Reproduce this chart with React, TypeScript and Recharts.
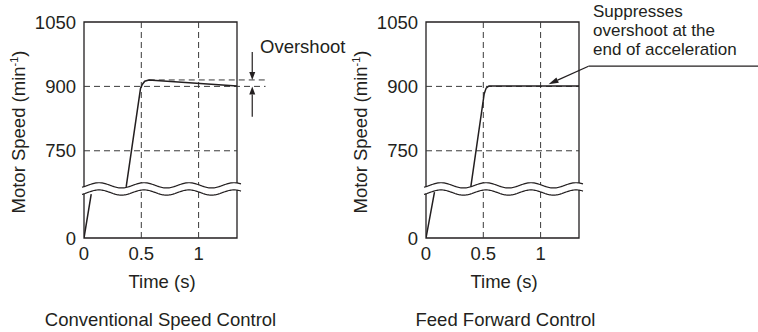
import React from 'react';
import { LineChart, Line, XAxis, YAxis, ReferenceLine, ReferenceArea, Label } from 'recharts';

// axis ticks
const SPEED_TICKS = [0, 750, 900, 1050];
const TIME_TICKS = [0, 0.5, 1];
const TIME_MAX = 1.335;

// broken speed axis: speeds between 100 and 666 are cut out under the wave
const BREAK_SPEEDS = [0, 100, 666, 1050];
const BREAK_POS = [0, 46, 51.4, 217];

// conventional speed control (null = axis break)
const CONV_TIME = [0, 0.063, 0.2, 0.368, 0.493, 0.51, 0.53, 0.565, 1.335];
const CONV_SPEED = [0, 96, null, 666, 895, 905, 912, 915, 901];

// feed forward control
const FF_TIME = [0, 0.074, 0.2, 0.391, 0.508, 0.525, 0.55, 1.335];
const FF_SPEED = [0, 100, null, 666, 883, 896, 901, 901];

// annotations
const OVERSHOOT_PEAK = 915;
const OVERSHOOT_LINE_T = [0.565, 1.6];
const REF_900_LEFT_T = [0, 1.584];
const OVERSHOOT_ARROW_T = 1.468;
const OVERSHOOT_ARROW_FROM = [980, 829];
const FF_NOTE_T = [1.418, 2.93, 1.069];
const FF_NOTE_SPEED = [947, 905];
const FF_NOTE_LINES = ['Suppresses', 'overshoot at the', 'end of acceleration'];

const INK = '#231f20';
const GRID = '#3a3a3a';
const FONT = "'Liberation Sans', Arial, sans-serif";
const FS = 18.5;

const PANEL_W = 416;
const PANEL_H = 332;
const PLOT_LEFT = 84;
const PLOT_W = 153;

const speedToAxis = (s: number) => {
  for (let i = 1; i < BREAK_SPEEDS.length; i++) {
    if (s <= BREAK_SPEEDS[i] || i === BREAK_SPEEDS.length - 1) {
      const s0 = BREAK_SPEEDS[i - 1], s1 = BREAK_SPEEDS[i];
      const p0 = BREAK_POS[i - 1], p1 = BREAK_POS[i];
      return p0 + ((s - s0) / (s1 - s0)) * (p1 - p0);
    }
  }
  return 0;
};
const Y_TOP = speedToAxis(1050);

const rows = (times: number[], speeds: (number | null)[]) =>
  times.map((t, i) => ({ t, speed: speeds[i] }));

const arrowShape = (head: number, half: number) => (p: any) => {
  const { x1, y1, x2, y2 } = p;
  const dx = x2 - x1, dy = y2 - y1;
  const len = Math.hypot(dx, dy) || 1;
  const ux = dx / len, uy = dy / len;
  const bx = x2 - ux * head, by = y2 - uy * head;
  const pts = `${x2},${y2} ${bx - uy * half},${by + ux * half} ${bx + uy * half},${by - ux * half}`;
  return (
    <g>
      <line x1={x1} y1={y1} x2={bx} y2={by} stroke={INK} strokeWidth={1.2} />
      <polygon points={pts} fill={INK} />
    </g>
  );
};

const WAVE_PERIOD = 45;
const WAVE_AMP = 2.6;
const waveShape = (p: any) => {
  const { x, y, width, height } = p;
  const from = x - 2, to = x + width + 4;
  const wave = (c: number) => {
    const pts: number[][] = [];
    for (let px = from; px <= to + 0.01; px += 1) {
      pts.push([px, c - WAVE_AMP * Math.cos((2 * Math.PI * (px - x - 15)) / WAVE_PERIOD)]);
    }
    return pts;
  };
  const up = wave(y - 1.5);
  const lo = wave(y + height + 0.3);
  const toD = (pts: number[][]) =>
    pts.map((q, i) => `${i ? 'L' : 'M'}${q[0].toFixed(2)},${q[1].toFixed(2)}`).join('');
  const fill = toD(up) + lo.slice().reverse().map(q => `L${q[0].toFixed(2)},${q[1].toFixed(2)}`).join('') + 'Z';
  return (
    <g>
      <path d={fill} fill="#fff" />
      <path d={toD(up)} fill="none" stroke={INK} strokeWidth={1.2} />
      <path d={toD(lo)} fill="none" stroke={INK} strokeWidth={1.2} />
    </g>
  );
};

const tickLabel = (v: number) => {
  const s = SPEED_TICKS.find(k => Math.abs(speedToAxis(k) - v) < 0.01);
  return s === undefined ? '' : String(s);
};

interface PanelProps {
  data: { t: number; speed: number | null }[];
  title: string;
  titleShift?: number;
  left: number;
  extras?: React.ReactNode[];
}

const Panel: React.FC<PanelProps> = ({ data, title, titleShift = 0, left, extras = [] }) => (
  <div style={{ position: 'absolute', left, top: 0 }}>
    <LineChart
      width={PANEL_W}
      height={PANEL_H}
      data={data}
      margin={{ top: 22, right: PANEL_W - PLOT_LEFT - PLOT_W, bottom: 0, left: 0 }}
      style={{ fontFamily: FONT }}
    >
      <XAxis
        dataKey="t"
        type="number"
        domain={[0, TIME_MAX]}
        ticks={TIME_TICKS}
        interval={0}
        allowDataOverflow
        axisLine={false}
        tickLine={false}
        tickSize={0}
        tickMargin={9}
        height={94}
        tick={{ fontSize: FS, fill: INK }}
      >
        <Label
          content={(p: any) => {
            const vb = p.viewBox || { x: PLOT_LEFT, y: 238, width: PLOT_W };
            const cx = vb.x + vb.width / 2;
            return (
              <g>
                <text x={cx + 1.5} y={vb.y + 50} textAnchor="middle" fontSize={FS} fill={INK}>
                  Time (s)
                </text>
                <text x={cx + titleShift} y={vb.y + 88} textAnchor="middle" fontSize={FS} fill={INK}>
                  {title}
                </text>
              </g>
            );
          }}
        />
      </XAxis>
      <YAxis
        type="number"
        domain={[0, Y_TOP]}
        ticks={SPEED_TICKS.map(speedToAxis)}
        tickFormatter={tickLabel}
        interval={0}
        allowDataOverflow
        axisLine={false}
        tickLine={false}
        tickSize={0}
        tickMargin={8}
        width={PLOT_LEFT}
        tick={{ fontSize: FS, fill: INK }}
      >
        <Label
          content={(p: any) => {
            const vb = p.viewBox || { x: 0, y: 22, height: 216 };
            const cx = vb.x + 25;
            const cy = vb.y + vb.height / 2 + 2;
            return (
              <text x={cx} y={cy} transform={`rotate(-90 ${cx} ${cy})`} textAnchor="middle" fontSize={FS} fill={INK}>
                Motor Speed (min<tspan fontSize={11} dy={-7}>-1</tspan>
                <tspan dy={7}>)</tspan>
              </text>
            );
          }}
        />
      </YAxis>
      {TIME_TICKS.slice(1).map(t => (
        <ReferenceLine key={'v' + t} x={t} stroke={GRID} strokeWidth={1} strokeDasharray="6 4" />
      ))}
      <ReferenceLine y={speedToAxis(750)} stroke={GRID} strokeWidth={1} strokeDasharray="6 4" />
      {extras}
      <Line
        dataKey={(d: any) => (d.speed == null ? null : speedToAxis(d.speed))}
        type="linear"
        stroke={INK}
        strokeWidth={1.5}
        dot={false}
        isAnimationActive={false}
      />
      <ReferenceArea x1={0} x2={TIME_MAX} y1={0} y2={Y_TOP} fill="none" stroke={INK} strokeWidth={1.3} />
      <ReferenceArea
        x1={0}
        x2={TIME_MAX}
        y1={speedToAxis(BREAK_SPEEDS[1])}
        y2={speedToAxis(BREAK_SPEEDS[2])}
        ifOverflow="visible"
        shape={waveShape}
        zIndex={1500}
      />
    </LineChart>
  </div>
);

export default function App() {
  const p900 = speedToAxis(900);
  const convExtras = [
    <ReferenceLine
      key="r900"
      segment={[{ x: REF_900_LEFT_T[0], y: p900 }, { x: REF_900_LEFT_T[1], y: p900 }]}
      ifOverflow="visible"
      stroke={GRID}
      strokeDasharray="6 4"
    />,
    <ReferenceLine
      key="peak"
      segment={[
        { x: OVERSHOOT_LINE_T[0], y: speedToAxis(OVERSHOOT_PEAK) },
        { x: OVERSHOOT_LINE_T[1], y: speedToAxis(OVERSHOOT_PEAK) },
      ]}
      ifOverflow="visible"
      stroke={GRID}
      strokeDasharray="6 4"
    />,
    <ReferenceLine
      key="a1"
      segment={[
        { x: OVERSHOOT_ARROW_T, y: speedToAxis(OVERSHOOT_ARROW_FROM[0]) },
        { x: OVERSHOOT_ARROW_T, y: speedToAxis(OVERSHOOT_PEAK) },
      ]}
      ifOverflow="visible"
      shape={arrowShape(8, 3)}
    />,
    <ReferenceLine
      key="a2"
      segment={[
        { x: OVERSHOOT_ARROW_T, y: speedToAxis(OVERSHOOT_ARROW_FROM[1]) },
        { x: OVERSHOOT_ARROW_T, y: p900 },
      ]}
      ifOverflow="visible"
      shape={arrowShape(8, 3)}
    />,
  ];
  const ffExtras = [
    <ReferenceLine key="r900" y={p900} stroke={GRID} strokeWidth={1} strokeDasharray="6 4" />,
    <ReferenceLine
      key="under"
      segment={[
        { x: FF_NOTE_T[0], y: speedToAxis(FF_NOTE_SPEED[0]) },
        { x: FF_NOTE_T[1], y: speedToAxis(FF_NOTE_SPEED[0]) },
      ]}
      ifOverflow="visible"
      stroke={INK}
      strokeWidth={1.2}
    />,
    <ReferenceLine
      key="diag"
      segment={[
        { x: FF_NOTE_T[0], y: speedToAxis(FF_NOTE_SPEED[0]) },
        { x: FF_NOTE_T[2], y: speedToAxis(FF_NOTE_SPEED[1]) },
      ]}
      ifOverflow="visible"
      shape={arrowShape(10, 3)}
    />,
  ];

  return (
    <div style={{ position: 'absolute', left: 0, top: 0, width: 758, height: 332, background: '#fff', overflow: 'hidden' }}>
      <Panel data={rows(CONV_TIME, CONV_SPEED)} title="Conventional Speed Control" left={0} extras={convExtras} />
      <Panel data={rows(FF_TIME, FF_SPEED)} title="Feed Forward Control" titleShift={3} left={342} extras={ffExtras} />
      <svg
        width={758}
        height={332}
        style={{ position: 'absolute', left: 0, top: 0, pointerEvents: 'none', fontFamily: FONT }}
      >
        <text x={260} y={53.3} fontSize={FS} fill={INK}>Overshoot</text>
        {FF_NOTE_LINES.map((s, i) => (
          <text key={s} x={593} y={17 + i * 19.1} fontSize={17} fill={INK}>{s}</text>
        ))}
      </svg>
    </div>
  );
}
